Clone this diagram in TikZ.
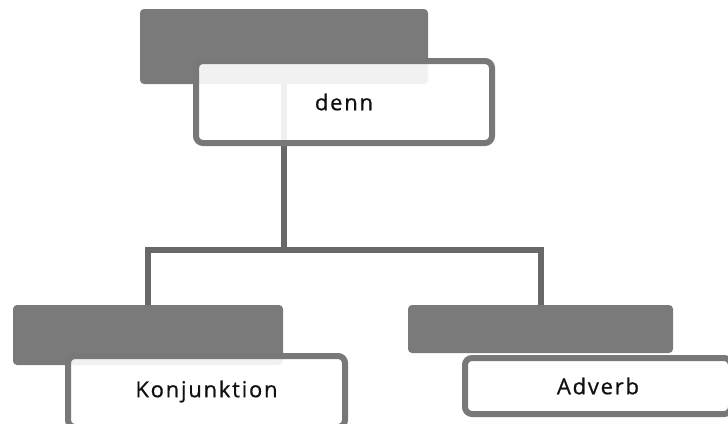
\documentclass[tikz,border=0pt]{standalone}
\usepackage{fontspec}
\setmainfont{Open Sans}[LetterSpace=8,FakeBold=0.7]
\usetikzlibrary{backgrounds}
\definecolor{darkbox}{HTML}{7A7A7A}
\definecolor{boxline}{HTML}{787878}
\definecolor{connline}{HTML}{686868}
\definecolor{txt}{HTML}{111111}
\begin{document}
\begin{tikzpicture}[x=1pt,y=-1pt,
  darkrect/.style={fill=darkbox, draw=none, rounded corners=4pt, inner sep=0pt},
  whiterect/.style={fill=white, fill opacity=0.9, text opacity=1, draw=boxline, draw opacity=1,
    line width=6pt, rounded corners=7pt, inner sep=0pt, text=txt, font=\fontsize{22}{26}\selectfont},
  conn/.style={draw=connline, line width=6pt}]
\useasboundingbox[clip] (0,0) rectangle (728,423);
\node[darkrect, minimum width=288pt, minimum height=75pt] (topdark) at (284,46.5) {};
\node[darkrect, minimum width=270pt, minimum height=60pt] (ldark) at (148,335) {};
\node[darkrect, minimum width=265pt, minimum height=48pt] (rdark) at (540.5,329) {};
\node[whiterect, minimum width=296pt, minimum height=82pt] (top) at (344,102) {denn};
\node[whiterect, minimum width=277pt, minimum height=71pt] (left) at (206.5,391.5) {\raisebox{3pt}{Konjunktion}};
\node[whiterect, minimum width=266pt, minimum height=56pt] (right) at (598,386) {Adverb};
\coordinate (bar) at (284,250);
\begin{scope}[on background layer]
\draw[conn] (topdark.center) -- (topdark.center |- bar);
\draw[conn] (ldark.north) |- (bar) -| (rdark.north);
\end{scope}
\end{tikzpicture}
\end{document}
